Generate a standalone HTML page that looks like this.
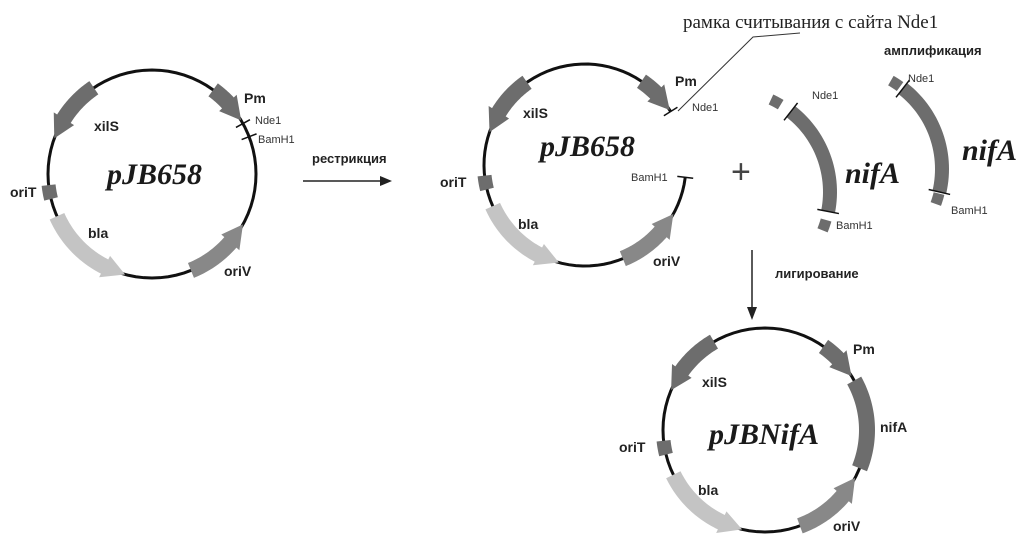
<!DOCTYPE html>
<html><head><meta charset="utf-8"><style>
body{margin:0;background:#fff;width:1024px;height:541px;overflow:hidden}
svg{display:block}
.b{font-family:"Liberation Sans",sans-serif;font-weight:bold;font-size:14px;fill:#222}
.s{font-family:"Liberation Sans",sans-serif;font-size:11px;fill:#333}
.t{font-family:"Liberation Serif",serif;font-weight:bold;font-style:italic;font-size:30px;fill:#1a1a1a}
</style></head><body>
<svg id="g" width="1024" height="541" viewBox="0 0 1024 541">
<text x="683" y="28" style="font-family:'Liberation Serif','Noto Serif CJK SC',serif;font-size:19px;fill:#222">рамка считывания с сайта Nde1</text>
<polyline points="800,33 753,37 678,111" fill="none" stroke="#333" stroke-width="1"/>
<text class="b" x="884" y="55" style="font-size:13px">амплификация</text>
<text class="b" x="312" y="163" style="font-size:13px">рестрикция</text>
<line x1="303" y1="181" x2="383" y2="181" stroke="#222" stroke-width="1.5"/>
<polygon points="392,181 380,176 380,186" fill="#222"/>
<text class="b" x="775" y="278" style="font-size:13px">лигирование</text>
<line x1="752" y1="250" x2="752" y2="310" stroke="#222" stroke-width="1.5"/>
<polygon points="752,320 747,307 757,307" fill="#222"/>
<text x="731" y="183" style="font-family:'Liberation Sans',sans-serif;font-size:34px;fill:#444">+</text>

<text class="t" x="107" y="184">pJB658</text>
<text class="t" x="540" y="156">pJB658</text>
<text class="t" x="709" y="444">pJBNifA</text>
<text class="t" x="845" y="183">nifA</text>
<text class="t" x="962" y="160">nifA</text>

<text class="b" x="94" y="131">xilS</text>
<text class="b" x="244" y="103">Pm</text>
<text class="s" x="255" y="124">Nde1</text>
<text class="s" x="258" y="143">BamH1</text>
<text class="b" x="10" y="197">oriT</text>
<text class="b" x="88" y="238">bla</text>
<text class="b" x="224" y="276">oriV</text>

<text class="b" x="523" y="118">xilS</text>
<text class="b" x="675" y="86">Pm</text>
<text class="s" x="692" y="111">Nde1</text>
<text class="s" x="631" y="181">BamH1</text>
<text class="b" x="440" y="187">oriT</text>
<text class="b" x="518" y="229">bla</text>
<text class="b" x="653" y="266">oriV</text>

<text class="s" x="812" y="99">Nde1</text>
<text class="s" x="836" y="229">BamH1</text>
<text class="s" x="908" y="82">Nde1</text>
<text class="s" x="951" y="214">BamH1</text>

<text class="b" x="702" y="387">xilS</text>
<text class="b" x="853" y="354">Pm</text>
<text class="b" x="880" y="432">nifA</text>
<text class="b" x="619" y="452">oriT</text>
<text class="b" x="698" y="495">bla</text>
<text class="b" x="833" y="531">oriV</text>
</svg>
<script>
var S=document.getElementById('g'),NS='http://www.w3.org/2000/svg';
function el(n,a){var e=document.createElementNS(NS,n);for(var k in a)e.setAttribute(k,a[k]);S.insertBefore(e,S.querySelector('text'));return e;}
function P(cx,cy,r,a){a=a*Math.PI/180;return [cx+r*Math.cos(a),cy+r*Math.sin(a)];}
function arcLine(cx,cy,r,a0,a1){var p=[];var n=80;for(var i=0;i<=n;i++){p.push(P(cx,cy,r,a0+(a1-a0)*i/n).join(','));}el('polyline',{points:p.join(' '),fill:'none',stroke:'#111','stroke-width':3});}
function band(cx,cy,r,a0,a1,w,col,head){
 var dir=a1>a0?1:-1;var hl=head?22/r*180/Math.PI:0;var ab=a1-dir*hl;var pts=[],n=30,i;
 for(i=0;i<=n;i++)pts.push(P(cx,cy,r+w/2,a0+(ab-a0)*i/n));
 if(head){pts.push(P(cx,cy,r+w/2+4,ab));pts.push(P(cx,cy,r,a1));pts.push(P(cx,cy,r-w/2-4,ab));}
 for(i=n;i>=0;i--)pts.push(P(cx,cy,r-w/2,a0+(ab-a0)*i/n));
 el('polygon',{points:pts.map(function(q){return q.join(',')}).join(' '),fill:col});}
function tick(cx,cy,r,a,l){var p=P(cx,cy,r-l,a),q=P(cx,cy,r+l,a);el('line',{x1:p[0],y1:p[1],x2:q[0],y2:q[1],stroke:'#111','stroke-width':1.5});}
function sq(cx,cy,r,a,s,col){var d=(s/2)/r*180/Math.PI;band(cx,cy,r,a-d,a+d,s,col,false);}
var D='#6d6d6d',L='#c4c4c4',M='#888',W=16;
// circle 1
arcLine(152,174,104,0,360);
band(152,174,104,-124,-160,W,D,true);
band(152,174,104,-54,-31,W,D,true);
tick(152,174,104,-29,8);tick(152,174,104,-21,8);
sq(152,174,104,170,14,D);
band(152,174,104,156,105,W,L,true);
band(152,174,104,68,29,W,M,true);
// circle 2
arcLine(585,165,101,7,328);
band(585,165,101,-125,-161,W,D,true);
band(585,165,101,-56,-33,W,D,true);
tick(585,165,101,-32,8);tick(585,165,101,7,8);
sq(585,165,101,170,14,D);
band(585,165,101,156,105,W,L,true);
band(585,165,101,68,29,W,M,true);
// circle 3
arcLine(765,430,102,0,360);
band(765,430,102,-120,-157,W,D,true);
band(765,430,102,-55,-32,W,D,true);
band(765,430,102,-29,22,W,D,false);
sq(765,430,102,170,14,D);
band(765,430,102,154,103,W,L,true);
band(765,430,102,70,28,W,M,true);
// fragments
band(728,192,102,-52,11,14,D,false);tick(728,192,102,-52,11);tick(728,192,102,11,11);
sq(728,192,102,-62,11,D);sq(728,192,102,19,11,D);
band(840,169,102,-52,13,14,D,false);tick(840,169,102,-52,11);tick(840,169,102,13,11);
sq(840,169,102,-57,11,D);sq(840,169,102,17,11,D);
</script>
</body></html>
